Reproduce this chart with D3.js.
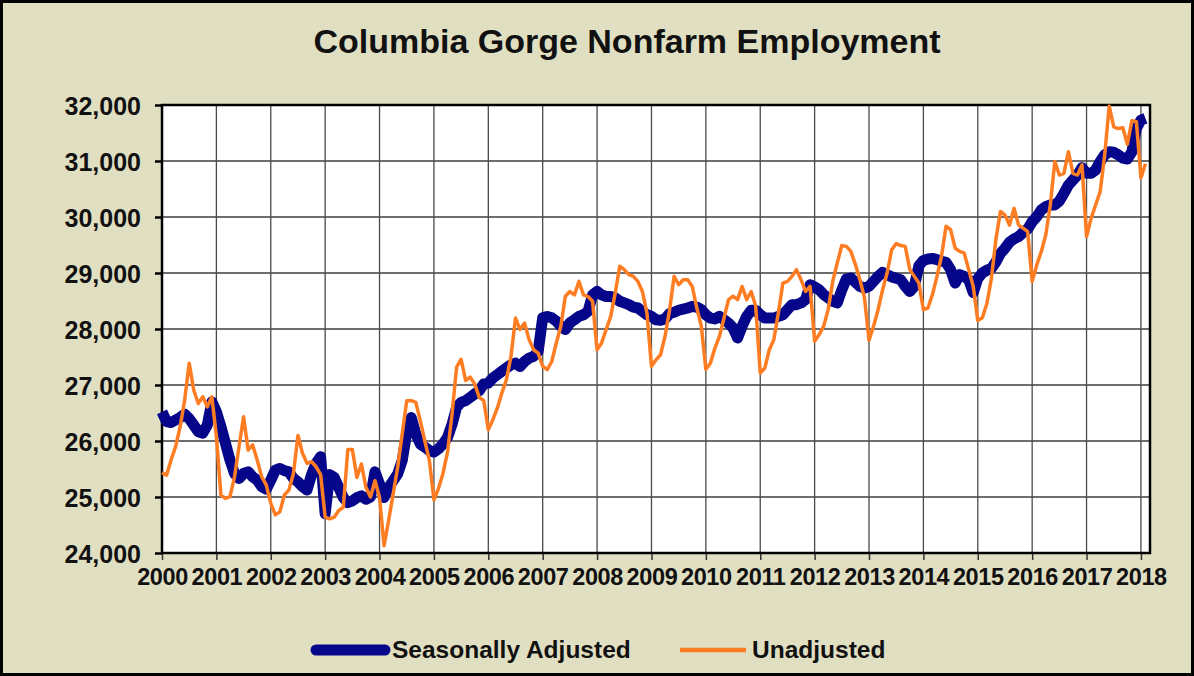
<!DOCTYPE html>
<html>
<head>
<meta charset="utf-8">
<script src="https://cdn.jsdelivr.net/npm/d3@7"></script>
<style>
  body { margin: 0; background: #fff; }
  svg { display: block; }
  text { font-family: "Liberation Sans", Arial, sans-serif; font-weight: bold; fill: #111; }
</style>
</head>
<body>
<div id="chart"></div>
<script>
// monthly series, Jan 2000 .. Feb 2018
var startYear = 2000;

var seasonallyAdjusted = [
  26520, 26345, 26330, 26375, 26420, 26480, 26400, 26285, 26165, 26140, 26285, 26700, // 2000
  26520, 26255, 25960, 25660, 25420, 25330, 25420, 25450, 25360, 25300, 25185, 25140, // 2001
  25300, 25480, 25510, 25470, 25450, 25330, 25270, 25185, 25125, 25400, 25600, 25720, // 2002
  24700, 25400, 25350, 25170, 24990, 24900, 24930, 24990, 25020, 24960, 25000, 25450, // 2003
  25230, 24990, 25170, 25290, 25410, 25650, 26150, 26420, 26125, 25945, 25890, 25830, // 2004
  25800, 25860, 25945, 26065, 26300, 26600, 26690, 26720, 26780, 26840, 26900, 27020, // 2005
  27035, 27125, 27185, 27245, 27305, 27360, 27390, 27330, 27420, 27480, 27510, 27600, // 2006
  28200, 28225, 28200, 28140, 28050, 27990, 28110, 28165, 28225, 28255, 28315, 28610, // 2007
  28670, 28610, 28580, 28580, 28555, 28495, 28465, 28435, 28390, 28375, 28315, 28255, // 2008
  28225, 28165, 28155, 28180, 28275, 28300, 28335, 28355, 28375, 28405, 28390, 28345, // 2009
  28255, 28195, 28180, 28225, 28165, 28105, 28020, 27840, 28050, 28225, 28335, 28335, // 2010
  28255, 28195, 28195, 28195, 28225, 28255, 28345, 28435, 28435, 28465, 28525, 28790, // 2011
  28750, 28700, 28615, 28555, 28495, 28465, 28700, 28895, 28910, 28835, 28760, 28730, // 2012
  28760, 28850, 28940, 29010, 28970, 28930, 28905, 28880, 28760, 28670, 28760, 29130, // 2013
  29225, 29250, 29260, 29240, 29210, 29190, 29060, 28820, 28970, 28940, 28880, 28650, // 2014
  28900, 29000, 29050, 29080, 29200, 29350, 29440, 29550, 29610, 29650, 29725, 29785, // 2015
  29915, 30005, 30125, 30185, 30215, 30215, 30285, 30420, 30570, 30660, 30750, 30880, // 2016
  30780, 30780, 30840, 30990, 31110, 31165, 31155, 31110, 31050, 31035, 31165, 31585, // 2017
  31730, 31760                                                                         // 2018
];

var unadjusted = [
  25435, 25390, 25660, 25900, 26255, 26730, 27390, 26910, 26670, 26790, 26610, 26790, // 2000
  26080, 25035, 24975, 25005, 25360, 25900, 26435, 25840, 25930, 25660, 25360, 25215, // 2001
  24885, 24680, 24735, 25035, 25125, 25420, 26100, 25780, 25600, 25630, 25540, 25400, // 2002
  24640, 24610, 24640, 24760, 24815, 25850, 25850, 25350, 25590, 25170, 25000, 25290, // 2003
  24990, 24130, 24580, 25050, 25530, 26125, 26720, 26720, 26690, 26360, 26000, 25650, // 2004
  24950, 25150, 25420, 25800, 26480, 27320, 27460, 27080, 27140, 27020, 26780, 26720, // 2005
  26200, 26380, 26590, 26860, 27095, 27510, 28195, 27990, 28105, 27810, 27630, 27570, // 2006
  27335, 27275, 27420, 27750, 28050, 28585, 28670, 28610, 28850, 28610, 28580, 28495, // 2007
  27630, 27750, 27990, 28225, 28640, 29120, 29060, 28970, 28940, 28850, 28670, 28285, // 2008
  27335, 27450, 27540, 27870, 28345, 28940, 28790, 28880, 28880, 28760, 28375, 28050, // 2009
  27280, 27390, 27660, 27870, 28195, 28525, 28585, 28525, 28760, 28525, 28670, 28405, // 2010
  27215, 27300, 27630, 27810, 28285, 28820, 28850, 28940, 29060, 28880, 28670, 28760, // 2011
  27780, 27900, 28050, 28350, 28850, 29180, 29490, 29475, 29385, 29150, 28880, 28555, // 2012
  27800, 28050, 28345, 28700, 29000, 29415, 29525, 29490, 29475, 29060, 28940, 28820, // 2013
  28345, 28375, 28615, 28940, 29300, 29835, 29775, 29445, 29385, 29355, 29060, 28760, // 2014
  28150, 28200, 28450, 28900, 29600, 30100, 30035, 29855, 30155, 29855, 29800, 29740, // 2015
  28850, 29140, 29380, 29680, 30215, 30990, 30750, 30780, 31165, 30780, 30750, 30930, // 2016
  29650, 29975, 30215, 30450, 31105, 31980, 31610, 31580, 31595, 31300, 31720, 31700, // 2017
  30700, 30950                                                                         // 2018
];

var yearTicks = d3.range(2000, 2019);
var valueTicks = [24000, 25000, 26000, 27000, 28000, 29000, 30000, 31000, 32000];

var seriesNames = ["Seasonally Adjusted", "Unadjusted"];
var seriesColors = ["#06068a", "#ff7d22"];

var svgWidth = 1194;
var svgHeight = 676;
var margin = {top: 105, right: 44, bottom: 123, left: 162};
var width = svgWidth - margin.left - margin.right;
var height = svgHeight - margin.top - margin.bottom;

var svg = d3.select("#chart")
  .append("svg")
  .attr("width", svgWidth)
  .attr("height", svgHeight);

// background + frame
svg.append("rect")
  .attr("x", 1.5).attr("y", 1.5)
  .attr("width", svgWidth - 3).attr("height", svgHeight - 3)
  .attr("fill", "#e1dfc2")
  .attr("stroke", "#000")
  .attr("stroke-width", 3);

svg.append("text")
  .attr("x", 627)
  .attr("y", 53)
  .attr("text-anchor", "middle")
  .style("font-size", "34px")
  .text("Columbia Gorge Nonfarm Employment");

var chartGroup = svg.append("g")
  .attr("transform", `translate(${margin.left}, ${margin.top})`);

var xScale = d3.scaleLinear()
  .domain([startYear, 2018 + 2 / 12])
  .range([0, width]);

var yScale = d3.scaleLinear()
  .domain([24000, 32000])
  .range([height, 0]);

chartGroup.append("rect")
  .attr("width", width)
  .attr("height", height)
  .attr("fill", "#fff");

// grid
chartGroup.append("g")
  .selectAll("line")
  .data(valueTicks)
  .enter()
  .append("line")
  .attr("x1", 0).attr("x2", width)
  .attr("y1", d => yScale(d)).attr("y2", d => yScale(d))
  .attr("stroke", "#3c3c3c")
  .attr("stroke-width", 1.3);

chartGroup.append("g")
  .selectAll("line")
  .data(yearTicks)
  .enter()
  .append("line")
  .attr("x1", d => xScale(d)).attr("x2", d => xScale(d))
  .attr("y1", 0).attr("y2", height)
  .attr("stroke", "#4a4a4a")
  .attr("stroke-width", 1.3);

// axes
var leftAxis = d3.axisLeft(yScale)
  .tickValues(valueTicks)
  .tickFormat(d3.format(","))
  .tickSize(7)
  .tickPadding(14);

var bottomAxis = d3.axisBottom(xScale)
  .tickValues(yearTicks)
  .tickFormat(d3.format("d"))
  .tickSize(7)
  .tickPadding(8);

var yAxisG = chartGroup.append("g").call(leftAxis);
yAxisG.select(".domain").remove();
yAxisG.selectAll("line").attr("stroke", "#000").attr("stroke-width", 2.5);
yAxisG.selectAll("text")
  .style("font-size", "25px")
  .style("font-family", "'Liberation Sans', Arial, sans-serif")
  .attr("fill", "#111")
  .attr("dy", "0.36em");

var xAxisG = chartGroup.append("g")
  .attr("transform", `translate(0, ${height})`)
  .call(bottomAxis);
xAxisG.select(".domain").remove();
xAxisG.selectAll("line").attr("stroke", "#333").attr("stroke-width", 1.5);
xAxisG.selectAll("text")
  .style("font-size", "23.5px")
  .style("font-family", "'Liberation Sans', Arial, sans-serif")
  .attr("fill", "#111")
  .attr("letter-spacing", "-0.4px");

// plot border
chartGroup.append("rect")
  .attr("width", width)
  .attr("height", height)
  .attr("fill", "none")
  .attr("stroke", "#000")
  .attr("stroke-width", 2.5);

// lines
var monthX = (d, i) => xScale(startYear + i / 12);

var line = d3.line()
  .x(monthX)
  .y(d => yScale(d));

chartGroup.append("path")
  .datum(seasonallyAdjusted)
  .attr("d", line)
  .attr("fill", "none")
  .attr("stroke", seriesColors[0])
  .attr("stroke-width", 11)
  .attr("stroke-linejoin", "round");

chartGroup.append("path")
  .datum(unadjusted)
  .attr("d", line)
  .attr("fill", "none")
  .attr("stroke", seriesColors[1])
  .attr("stroke-width", 3.5)
  .attr("stroke-linejoin", "round");

// legend
var legend = svg.append("g");
var legendItems = [
  {x1: 316, x2: 385, tx: 392, w: 11},
  {x1: 680, x2: 746, tx: 752, w: 4.5}
];
legendItems.forEach(function(item, i) {
  legend.append("line")
    .attr("x1", item.x1).attr("x2", item.x2)
    .attr("y1", 650).attr("y2", 650)
    .attr("stroke", seriesColors[i])
    .attr("stroke-width", item.w)
    .attr("stroke-linecap", i === 0 ? "round" : "butt");
  legend.append("text")
    .attr("x", item.tx)
    .attr("y", 658)
    .style("font-size", "24.5px")
    .text(seriesNames[i]);
});
</script>
</body>
</html>
